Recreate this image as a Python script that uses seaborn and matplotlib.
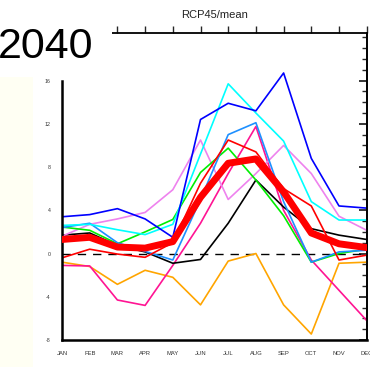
import matplotlib
matplotlib.use("Agg")
import matplotlib.pyplot as plt
import seaborn as sns
import numpy as np
import pandas as pd
from matplotlib.patches import Rectangle
from matplotlib.ticker import MultipleLocator

months = ["JAN", "FEB", "MAR", "APR", "MAY", "JUN", "JUL", "AUG", "SEP", "OCT", "NOV", "DEC"]
blue = [3.4, 3.6, 4.15, 3.2, 1.5, 12.4, 13.9, 13.2, 16.7, 8.8, 4.4, 4.2]
cyan = [2.6, 2.7, 2.2, 1.75, 2.7, 9.2, 15.7, 13.0, 10.4, 4.8, 3.1, 3.1]
dodgerblue = [2.4, 2.8, 1.0, 0.2, -0.6, 5.0, 11.0, 12.1, 4.8, -0.8, 0.15, 0.3]
green = [2.45, 2.15, 0.9, 2.0, 3.15, 7.5, 9.75, 6.8, 3.5, -0.8, 0.0, 0.4]
violet = [1.6, 2.7, 3.2, 3.8, 5.9, 10.5, 5.0, 7.4, 10.0, 7.4, 3.45, 2.15]
black = [1.7, 1.9, 0.75, 0.15, -0.9, -0.55, 2.8, 6.8, 4.3, 2.3, 1.7, 1.3]
red = [-0.4, 0.4, -0.05, -0.35, 1.0, 6.5, 10.5, 9.4, 6.0, 4.4, -0.6, -0.15]
deeppink = [-1.1, -1.15, -4.3, -4.8, -1.1, 2.8, 7.4, 11.75, 4.0, -0.6, -3.4, -6.2]
orange = [-0.8, -1.2, -2.85, -1.55, -2.2, -4.75, -0.7, 0.0, -4.75, -7.45, -0.9, -0.8]
ens_mean = [1.3, 1.5, 0.6, 0.5, 1.1, 5.2, 8.35, 8.75, 5.7, 1.9, 0.9, 0.55]
yticks = [-8, -4, 0, 4, 8, 12, 16]

series = [
    ("orange", orange, "#FFA500"),
    ("deeppink", deeppink, "#FF1493"),
    ("black", black, "#000000"),
    ("violet", violet, "#EE82EE"),
    ("green", green, "#00EE00"),
    ("dodgerblue", dodgerblue, "#1E90FF"),
    ("cyan", cyan, "#00FFFF"),
    ("blue", blue, "#0000FF"),
    ("red", red, "#FF0000"),
]

sns.set_style("white")
plt.rcParams["font.family"] = ["Liberation Sans", "DejaVu Sans"]

W, H = 370, 367
fig = plt.figure(figsize=(W / 100, H / 100), dpi=100)
x0, x1, y0, y1 = 62, 366.7, 33, 340
ax = fig.add_axes([x0 / W, 1 - y1 / H, (x1 - x0) / W, (y1 - y0) / H])

xi = np.arange(len(months))
ax.axhline(0, color="black", lw=1.0, ls=(0, (6, 5)), zorder=1)
for name, vals, col in series:
    sns.lineplot(x=xi, y=vals, color=col, lw=1.2, ax=ax, zorder=2)
sns.lineplot(x=xi, y=ens_mean, color="#FF0000", lw=5.0, ax=ax, zorder=3)

ax.set_xlim(0, 11)
ax.set_ylim(-8, 20.4)
ax.set_xticks(xi)
ax.set_xticklabels(months, fontsize=4.2, color="#333333")
ax.set_yticks(yticks)
ax.set_yticklabels([str(v) for v in yticks], fontsize=3.8, color="#333333")
ax.yaxis.set_minor_locator(MultipleLocator(1))
ax.tick_params(axis="x", which="major", direction="out", length=5, width=1.0, top=True, pad=3)
ax.tick_params(axis="y", which="major", direction="out", length=6, width=1.6, pad=2)
ax.tick_params(axis="y", which="minor", direction="out", length=3.5, width=1.0)

# right axis: inward ticks, no labels
sec = ax.secondary_yaxis("right")
sec.set_yticks(yticks)
sec.set_yticklabels([])
sec.yaxis.set_minor_locator(MultipleLocator(1))
sec.tick_params(which="major", direction="in", length=6, width=1.3)
sec.tick_params(which="minor", direction="in", length=3.5, width=1.0)
sec.spines["right"].set_linewidth(1.3)

for s in ax.spines.values():
    s.set_color("black")
    s.set_linewidth(1.3)
ax.spines["left"].set_linewidth(1.8)
ax.spines["bottom"].set_linewidth(1.8)
ax.spines["left"].set_bounds(-8, 16)
ax.set_xlabel("")
ax.set_ylabel("")

fig.text((x0 + x1) / 2 / W, 1 - 15 / H, "RCP45/mean", ha="center", va="center",
         fontsize=8, color="#222222")

# overlays of the composite
fig.add_artist(Rectangle((0, 1 - 77 / H), 112 / W, 77 / H, transform=fig.transFigure,
                         facecolor="white", edgecolor="none", zorder=5))
fig.add_artist(Rectangle((0, 0), 33 / W, 1 - 77 / H, transform=fig.transFigure,
                         facecolor="#FFFFF3", edgecolor="none", zorder=5))
fig.text(-2 / W, 1 - 58 / H, "2040", ha="left", va="baseline", fontsize=31,
         family=["Liberation Sans", "DejaVu Sans"], color="black", zorder=6)

fig.savefig("out.png", dpi=100)
